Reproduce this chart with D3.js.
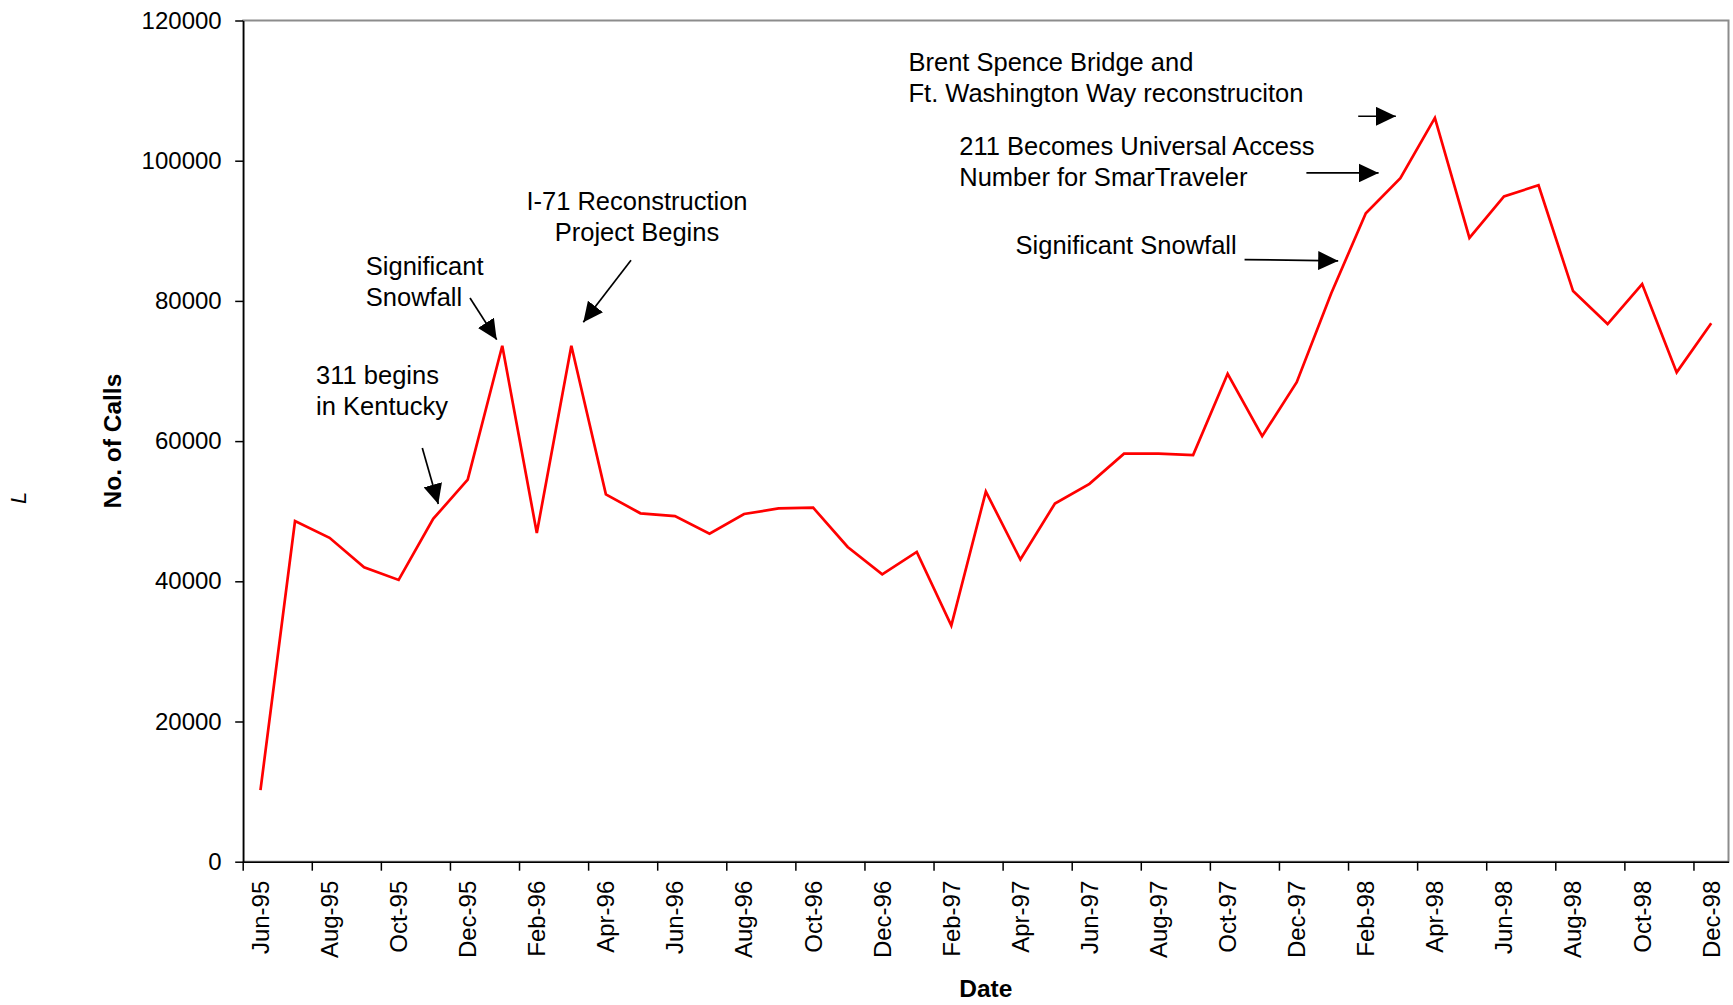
<!DOCTYPE html>
<html lang="en">

<head>
    <meta charset="UTF-8">
    <title>No. of Calls</title>
    <style>
        body {
            margin: 0;
            background: #fff;
        }

        svg text {
            font-family: Arial, "Liberation Sans", sans-serif;
            fill: #000;
        }

        .axis path,
        .axis line {
            stroke: #000;
            stroke-width: 1.5px;
        }

        .axis text {
            font-size: 24px;
        }

        .axis-title {
            font-size: 24.5px;
            font-weight: bold;
        }

        .note {
            font-size: 25.5px;
        }
    </style>
</head>

<body>
    <svg id="chart"></svg>

    <script src="https://d3js.org/d3.v7.min.js"></script>
    <script>
        // Data
        var months = [
            "Jun-95", "Jul-95", "Aug-95", "Sep-95", "Oct-95", "Nov-95", "Dec-95",
            "Jan-96", "Feb-96", "Mar-96", "Apr-96", "May-96", "Jun-96",
            "Jul-96", "Aug-96", "Sep-96", "Oct-96", "Nov-96", "Dec-96",
            "Jan-97", "Feb-97", "Mar-97", "Apr-97", "May-97", "Jun-97",
            "Jul-97", "Aug-97", "Sep-97", "Oct-97", "Nov-97", "Dec-97",
            "Jan-98", "Feb-98", "Mar-98", "Apr-98", "May-98", "Jun-98",
            "Jul-98", "Aug-98", "Sep-98", "Oct-98", "Nov-98", "Dec-98"
        ];

        var calls = [
            10200, 48600, 46200, 42000, 40200, 48900, 54500,
            73600, 46900, 73600, 52400, 49700, 49300,
            46800, 49600, 50400, 50500, 44900, 41000,
            44200, 33700, 52800, 43100, 51100, 53900,
            58200, 58200, 58000, 69600, 60700, 68400,
            81100, 92500, 97500, 106100, 89000, 94900,
            96500, 81400, 76700, 82400, 69800, 76800
        ];

        var xTickLabels = [
            "Jun-95", "Aug-95", "Oct-95", "Dec-95", "Feb-96", "Apr-96",
            "Jun-96", "Aug-96", "Oct-96", "Dec-96", "Feb-97", "Apr-97",
            "Jun-97", "Aug-97", "Oct-97", "Dec-97", "Feb-98", "Apr-98",
            "Jun-98", "Aug-98", "Oct-98", "Dec-98"
        ];

        var yTicks = [0, 20000, 40000, 60000, 80000, 100000, 120000];

        // Notes, placed in data units: [month index, calls]
        var notes = [
            { lines: ["311 begins", "in Kentucky"], anchor: "start", at: [1.61, 68190] },
            { lines: ["Significant", "Snowfall"], anchor: "start", at: [3.05, 83745] },
            { lines: ["I-71 Reconstruction", "Project Begins"], anchor: "middle", at: [10.9, 92920] },
            { lines: ["Brent Spence Bridge and", "Ft. Washington Way reconstruciton"], anchor: "start", at: [18.76, 112860] },
            { lines: ["211 Becomes Universal Access", "Number for SmarTraveler"], anchor: "start", at: [20.23, 100880] },
            { lines: ["Significant Snowfall"], anchor: "start", at: [21.86, 86670] }
        ];

        var arrows = [
            { from: [4.685, 59010], to: [5.148, 51015] },
            { from: [6.066, 80420], to: [6.839, 74470] },
            { from: [10.727, 85790], to: [9.346, 76940] },
            { from: [31.78, 106340], to: [32.87, 106340] },
            { from: [30.28, 98250], to: [32.37, 98250] },
            { from: [28.49, 85890], to: [31.2, 85715] }
        ];

        // Constants
        var W = 1733, H = 1005;
        var margin = { top: 20.5, right: 4.5, bottom: 143.3, left: 243.2 },
            width = W - margin.left - margin.right,
            height = H - margin.top - margin.bottom;

        var svg = d3.select("#chart")
            .attr("width", W)
            .attr("height", H);

        var chart = svg.append("g")
            .attr("transform", "translate(" + margin.left + "," + margin.top + ")");

        // Scales
        var x = d3.scaleBand()
            .domain(months)
            .range([0, width])
            .padding(0);
        var bw = x.bandwidth();

        var y = d3.scaleLinear()
            .domain([0, 120000])
            .range([height, 0]);

        // fractional month index -> px, for the notes
        var xi = d3.scaleLinear()
            .domain([0, months.length - 1])
            .range([bw / 2, width - bw / 2]);

        // Plot frame (top and right edges)
        chart.append("rect")
            .attr("x", 0)
            .attr("y", 0)
            .attr("width", width)
            .attr("height", height)
            .attr("fill", "none")
            .attr("stroke", "#8c8c8c")
            .attr("stroke-width", 2);

        // X axis: tick marks between categories, labels at centers
        var xAxis = chart.append("g")
            .attr("class", "axis")
            .attr("transform", "translate(0," + height + ")")
            .call(d3.axisBottom(x).tickValues(xTickLabels).tickSize(9).tickSizeOuter(0));

        xAxis.selectAll(".tick line")
            .attr("x1", -bw / 2)
            .attr("x2", -bw / 2);

        xAxis.selectAll(".tick text")
            .attr("transform", "rotate(-90)")
            .attr("text-anchor", "end")
            .attr("x", -19)
            .attr("y", 0)
            .attr("dy", "0.35em");

        // Y axis
        chart.append("g")
            .attr("class", "axis")
            .call(d3.axisLeft(y)
                .tickValues(yTicks)
                .tickSize(8)
                .tickPadding(13.5)
                .tickSizeOuter(0)
                .tickFormat(d3.format("d")));

        // Line
        var line = d3.line()
            .x(function (d, i) { return x(months[i]) + bw / 2; })
            .y(function (d) { return y(d); });

        chart.append("path")
            .datum(calls)
            .attr("d", line)
            .attr("fill", "none")
            .attr("stroke", "#ff0000")
            .attr("stroke-width", 2.7)
            .attr("stroke-linejoin", "miter");

        // Arrowheads
        svg.append("defs").append("marker")
            .attr("id", "head")
            .attr("viewBox", "0 0 20 19")
            .attr("refX", 20)
            .attr("refY", 9.5)
            .attr("markerWidth", 20)
            .attr("markerHeight", 19)
            .attr("markerUnits", "userSpaceOnUse")
            .attr("orient", "auto")
            .append("path")
            .attr("d", "M0,0L20,9.5L0,19Z")
            .attr("fill", "#000");

        chart.selectAll(".arrow")
            .data(arrows)
            .enter()
            .append("line")
            .attr("class", "arrow")
            .attr("x1", function (d) { return xi(d.from[0]); })
            .attr("y1", function (d) { return y(d.from[1]); })
            .attr("x2", function (d) { return xi(d.to[0]); })
            .attr("y2", function (d) { return y(d.to[1]); })
            .attr("stroke", "#000")
            .attr("stroke-width", 1.7)
            .attr("marker-end", "url(#head)");

        // Note texts
        notes.forEach(function (n) {
            var t = chart.append("text")
                .attr("class", "note")
                .attr("text-anchor", n.anchor)
                .attr("x", xi(n.at[0]))
                .attr("y", y(n.at[1]));
            n.lines.forEach(function (s, k) {
                t.append("tspan")
                    .attr("x", xi(n.at[0]))
                    .attr("dy", k === 0 ? 0 : 31)
                    .text(s);
            });
        });

        // Axis titles
        svg.append("text")
            .attr("class", "axis-title")
            .attr("text-anchor", "middle")
            .attr("transform", "rotate(-90)")
            .attr("x", -(margin.top + height / 2))
            .attr("y", 121)
            .text("No. of Calls");

        svg.append("text")
            .attr("class", "axis-title")
            .attr("text-anchor", "middle")
            .attr("x", margin.left + width / 2)
            .attr("y", 997)
            .text("Date");

        // stray mark at far left
        svg.append("text")
            .attr("transform", "translate(26,504) rotate(-90)")
            .style("font-size", "22px")
            .style("font-style", "italic")
            .text("L");
    </script>
</body>

</html>
